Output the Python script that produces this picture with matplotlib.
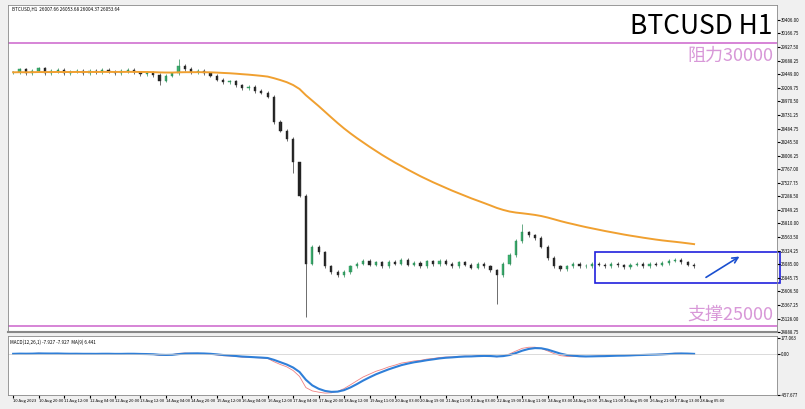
import numpy as np
import pandas as pd
import matplotlib.pyplot as plt
from matplotlib.patches import Rectangle

plt.rcParams['font.family'] = ['Noto Sans CJK SC', 'DejaVu Sans']

# 4-hour closes
closes = [29480, 29530, 29460, 29510, 29550, 29470, 29500, 29520, 29460, 29490,
          29510, 29470, 29500, 29480, 29520, 29490, 29460, 29500, 29520, 29480,
          29450, 29470, 29430, 29330, 29420, 29460, 29600, 29540, 29480, 29500,
          29460, 29420, 29350, 29300, 29320, 29250, 29200, 29220, 29150, 29120,
          29050, 28600, 28450, 28300, 27900, 27300, 26100, 26400, 26300, 26050,
          25950, 25900, 25950, 26050, 26100, 26150, 26080, 26120, 26060, 26130,
          26100, 26170, 26080, 26110, 26050, 26140, 26090, 26150, 26100, 26060,
          26120, 26080, 26030, 26100, 26050, 25980, 25900, 26100, 26250, 26500,
          26650, 26600, 26550, 26400, 26200, 26050, 26000, 26050, 26100, 26050,
          26060, 26100, 26080, 26050, 26090, 26070, 26040, 26080, 26100, 26060,
          26090, 26080, 26110, 26150, 26170, 26120, 26080, 26053]
spike_lows = {46: 25150, 76: 25380, 23: 29250, 44: 27700}
spike_highs = {26: 29720, 80: 26800, 45: 27600}
tick_labels = ['10 Aug 2023', '10 Aug 20:00', '11 Aug 12:00', '12 Aug 04:00', '12 Aug 20:00',
               '13 Aug 12:00', '14 Aug 04:00', '14 Aug 20:00', '15 Aug 12:00', '16 Aug 04:00',
               '16 Aug 12:00', '17 Aug 04:00', '17 Aug 20:00', '18 Aug 12:00', '19 Aug 11:00',
               '20 Aug 03:00', '20 Aug 19:00', '21 Aug 11:00', '22 Aug 03:00', '22 Aug 19:00',
               '23 Aug 11:00', '24 Aug 03:00', '24 Aug 19:00', '25 Aug 11:00', '26 Aug 05:00',
               '26 Aug 21:00', '27 Aug 13:00', '28 Aug 05:00']
price_ticks = [30406.00, 30166.75, 29927.50, 29688.25, 29449.00, 29209.75, 28970.50, 28731.25,
               28484.75, 28245.50, 28006.25, 27767.00, 27527.75, 27288.50, 27049.25, 26810.00,
               26563.50, 26324.25, 26085.00, 25845.75, 25606.50, 25367.25, 25128.00, 24888.75]

c = pd.Series(closes, dtype=float)
o = c.shift(1).fillna(c.iloc[0])
hi = np.maximum(o, c) + 30
lo = np.minimum(o, c) - 30
for k, v in spike_lows.items():
    lo[k] = v
for k, v in spike_highs.items():
    hi[k] = v
ma = c.ewm(span=55, adjust=False).mean()
macd = (c.ewm(span=6, adjust=False).mean() - c.ewm(span=13, adjust=False).mean()) * 0.55
sig = macd.ewm(span=3, adjust=False).mean()
x = np.arange(len(c))
N = 120

fig = plt.figure(figsize=(8.05, 4.09), dpi=100)
fig.patch.set_facecolor('#f0f0f0')
ax = fig.add_axes([0.01, 0.188, 0.955, 0.8])
ax2 = fig.add_axes([0.01, 0.034, 0.955, 0.145])

up = c >= o
ax.vlines(x, lo, hi, color=np.where(up, '#2e8b57', '#333333'), lw=0.5)
ax.bar(x, (c - o).abs().clip(lower=8), bottom=np.minimum(o, c), width=0.35,
       color=np.where(up, '#3cb371', '#222222'), edgecolor=np.where(up, '#2e8b57', '#222222'), lw=0.3)
ax.plot(x, ma, color='#f0a030', lw=1.4)
ax.axhline(30000, color='#d070d0', lw=1.2)
ax.axhline(25000, color='#d070d0', lw=1.2)
ax.add_patch(Rectangle((91.5, 25760), 29, 540, fill=False, ec='#2020dd', lw=1.2, clip_on=False))
ax.annotate('', xy=(114.5, 26250), xytext=(108.5, 25830),
            arrowprops=dict(arrowstyle='->', color='#1a4fd0', lw=1.2))
ax.text(0.995, 0.975, 'BTCUSD H1', transform=ax.transAxes, ha='right', va='top', fontsize=19)
ax.text(0.995, 0.845, '阻力30000', transform=ax.transAxes, ha='right', va='center', fontsize=13, color='#d898d8')
ax.text(0.995, 0.055, '支撑25000', transform=ax.transAxes, ha='right', va='center', fontsize=13, color='#d898d8')
ax.text(0.005, 0.995, 'BTCUSD,H1  26007.66 26053.68 26004.37 26053.64', transform=ax.transAxes,
        ha='left', va='top', fontsize=3.3)
ax.set_ylim(24894, 30671)
ax.set_xlim(-0.8, N)
ax.yaxis.tick_right()
ax.set_yticks(price_ticks)
ax.set_yticklabels([f'{t:.2f}' for t in price_ticks], fontsize=3.2)
ax.tick_params(axis='y', length=2, pad=1)
ax.set_xticks([])

ax2.plot(x, macd, color='#f08080', lw=0.6)
ax2.plot(x, sig, color='#2f7fd8', lw=1.5)
ax2.axhline(0, color='#cccccc', lw=0.5)
ax2.set_ylim(-457.677, 200)
ax2.set_xlim(-0.8, N)
ax2.yaxis.tick_right()
ax2.set_yticks([177.063, 0, -457.677])
ax2.set_yticklabels(['177.063', '0.00', '-457.677'], fontsize=3.2)
ax2.set_xticks(np.arange(len(tick_labels)) * 4)
ax2.set_xticklabels(tick_labels, fontsize=3.0, ha='left')
ax2.tick_params(length=2, pad=1)
ax2.text(0.003, 0.93, 'MACD(12,26,1) -7.927 -7.927  MA(9) 6.441', transform=ax2.transAxes,
         ha='left', va='top', fontsize=3.3)
for a in (ax, ax2):
    a.set_facecolor('white')
    for s in a.spines.values():
        s.set_color('#888888')
        s.set_linewidth(0.6)
ax.spines['bottom'].set_linewidth(1.5)

fig.savefig('out.png', dpi=100, facecolor=fig.get_facecolor())
